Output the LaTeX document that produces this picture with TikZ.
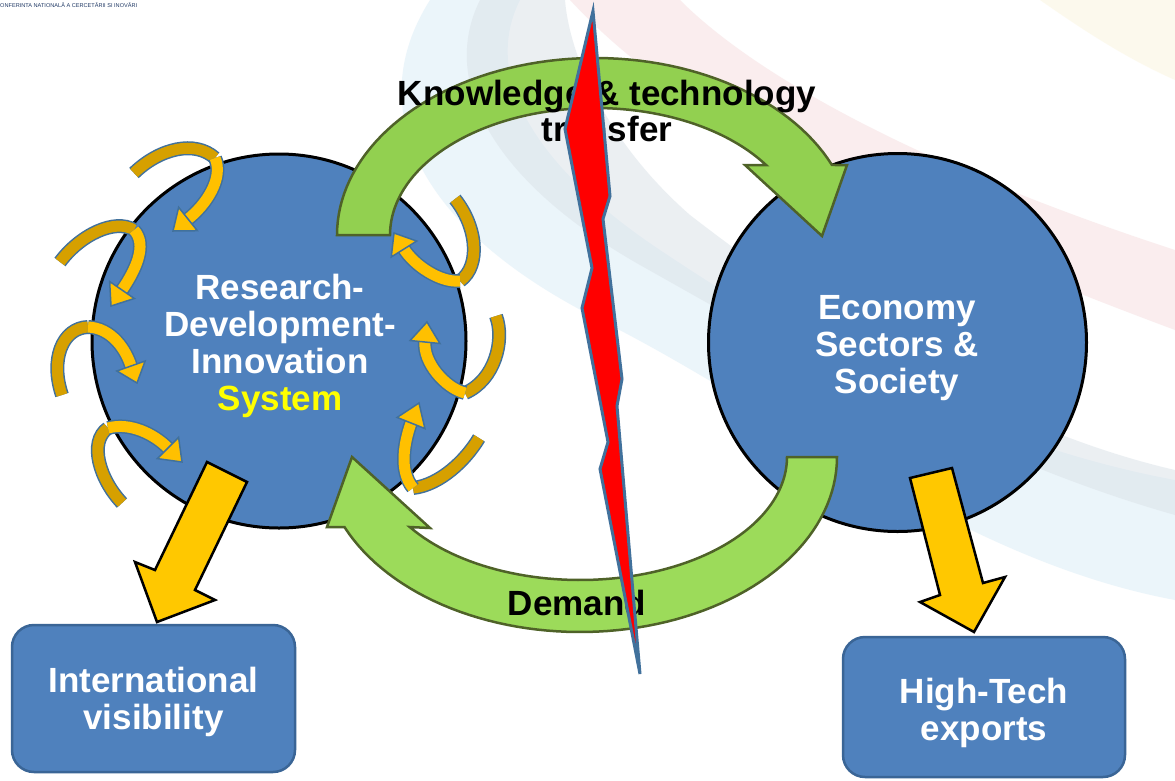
\documentclass[tikz,border=0pt]{standalone}
\usepackage{fontspec}
\setmainfont{Liberation Sans}
\usetikzlibrary{calc}
\definecolor{cblue}{HTML}{4F81BD}
\definecolor{boxedge}{HTML}{3A6596}
\definecolor{gfill}{HTML}{92D050}
\definecolor{gfillb}{HTML}{9CDB5A}
\definecolor{gedge}{HTML}{4F6228}
\definecolor{yfill}{HTML}{FFC800}
\definecolor{sbright}{HTML}{FFC000}
\definecolor{sdark}{HTML}{D6A000}
\definecolor{sedge}{HTML}{41719C}
\definecolor{navy}{HTML}{1F3864}
\definecolor{bgblue}{HTML}{DCEDF7}
\definecolor{bggrey}{HTML}{DCE3E9}
\definecolor{bgpink}{HTML}{F6E0E1}
\definecolor{bgyel}{HTML}{FBF5DF}
\definecolor{systemyellow}{HTML}{FFFF00}
\newcommand\curlyarrow[8]{%
  \draw[ribdark] #1 .. controls #2 and #3 .. #4;
  \draw[ribbright] #4 .. controls #5 and #6 .. #7;
  \filldraw[ribhead] ($#7!15pt!90:#8$) -- #8 -- ($#7!15pt!-90:#8$) -- cycle;
}
\begin{document}
\begin{tikzpicture}[x=1pt,y=-1pt,
  txt/.style={font=\fontsize{35}{36}\selectfont\bfseries, align=center, inner sep=0pt},
  bigcirc/.style={circle, draw=black, line width=3pt, fill=cblue, inner sep=0pt},
  circtxt/.style={text=white, font=\fontsize{35}{37}\selectfont\bfseries, align=center, inner sep=0pt},
  bluebox/.style={draw=boxedge, line width=2.5pt, fill=cblue, rounded corners=22pt, text=white, font=\fontsize{35}{36}\selectfont\bfseries, align=center},
  greenarc/.style={draw=gedge, line width=2.5pt, line join=miter},
  yarrow/.style={fill=yfill, draw=black, line width=2.5pt, line join=miter},
  boltstyle/.style={fill=red, draw=sedge, line width=3pt, line join=miter},
  ribdark/.style={draw=sedge, line width=1.5pt, double=sdark, double distance=11pt},
  ribbright/.style={draw=sedge, line width=1.5pt, double=sbright, double distance=11pt},
  ribhead/.style={fill=sbright, draw=sedge, line width=1.5pt, line join=miter},
  swoosh/.style={opacity=0.55},
]
\useasboundingbox (0,0) rectangle (1175,780);
\fill[white] (0,0) rectangle (1175,780);
% background swooshes
\fill[bgyel, swoosh] (1040,0) .. controls (1090,35) and (1130,60) .. (1175,80) -- (1175,0) -- cycle;
\fill[bgpink, swoosh] (570,0) .. controls (680,120) and (880,220) .. (1175,330) -- (1175,250) .. controls (930,170) and (760,80) .. (680,0) -- cycle;
\fill[bgblue, swoosh] (430,0) .. controls (360,110) and (420,230) .. (600,320) .. controls (780,410) and (960,560) .. (1175,600) -- (1175,480) .. controls (960,440) and (780,330) .. (660,250) .. controls (540,170) and (480,80) .. (520,0) -- cycle;
\fill[bggrey, swoosh] (480,0) .. controls (440,80) and (490,180) .. (640,265) .. controls (800,355) and (980,460) .. (1175,515) -- (1175,470) .. controls (980,425) and (800,300) .. (690,215) .. controls (610,145) and (570,60) .. (565,0) -- cycle;

\node[anchor=west, inner sep=0pt, text=navy, font=\fontsize{5.6}{6}\selectfont] (conf) at (0,5) {ONFERINTA NATIONALĂ A CERCETĂRII SI INOVĂRI};

% circles
\node[bigcirc, minimum size=374pt] (rdi) at (279,341) {};
\node[circtxt] (rditxt) at (280,346) {Research-\\Development-\\Innovation\\\textcolor{systemyellow}{System}};
\node[bigcirc, minimum size=378pt] (eco) at (897.5,342.5) {};
\node[circtxt] (ecotxt) at (897,348) {Economy\\Sectors \&\\Society};

% green arcs
\filldraw[greenarc, fill=gfill] plot[domain=180:23.3, samples=70] ({595+258*cos(\x)},{235-177*sin(\x)})
  -- (847,165) -- (822,236) -- (745,165)
  -- plot[domain=33.45:180, samples=70] ({595+205*cos(\x)},{235-127*sin(\x)}) -- cycle;
\filldraw[greenarc, fill=gfillb] plot[domain=0:156.4, samples=70] ({580+257*cos(\x)},{457+175*sin(\x)})
  -- (327,527) -- (352,457) -- (430,528)
  -- plot[domain=145.3:0, samples=70] ({580+207*cos(\x)},{457+123*sin(\x)}) -- cycle;

% small curled arrows
\curlyarrow{(134,173)}{(160,148)}{(195,140)}{(215,158)}{(224,178)}{(206,205)}{(188,219)}{(173,231)}
\curlyarrow{(60,262)}{(80,235)}{(115,218)}{(134,230)}{(148,245)}{(135,271)}{(122,290)}{(111,306)}
\curlyarrow{(62,395)}{(50,360)}{(62,328)}{(88,327)}{(112,328)}{(126,350)}{(131,366)}{(137,383)}
\curlyarrow{(122,503)}{(100,480)}{(88,442)}{(108,428)}{(130,422)}{(154,434)}{(168,448)}{(182,462)}
\curlyarrow{(455,199)}{(476,225)}{(482,265)}{(460,281)}{(440,283)}{(414,265)}{(404,249)}{(394,233)}
\curlyarrow{(496,316)}{(505,340)}{(495,380)}{(465,393)}{(445,388)}{(423,362)}{(425,342)}{(427,322)}
\curlyarrow{(479,438)}{(466,460)}{(440,485)}{(413,488)}{(398,470)}{(405,440)}{(411,423)}{(419,403)}

% texts on arcs
\node[txt] (ktt) at (607,111) {Knowledge \& technology\\transfer};
\node[txt] (dem) at (577,603) {Demand};

% lightning bolt
\filldraw[boltstyle] (593,11) -- (610,196) -- (603,219) -- (622,379) -- (617,406) -- (640,674)
  -- (600,469) -- (608,442) -- (582,308) -- (592,268) -- (565,129) -- cycle;

% boxes
\node[bluebox, minimum width=283pt, minimum height=147pt] (intl) at (153.5,698.5) {};
\node[circtxt] (intltxt) at (153.5,702) {International\\visibility};
\node[bluebox, minimum width=282pt, minimum height=140pt] (hte) at (984,707) {};
\node[circtxt] (htetxt) at (984,713) {High-Tech\\exports};

% big yellow arrows
\filldraw[yarrow] (207,462) -- (247,482) -- (195,590) -- (215,600) -- (157,622) -- (135,562) -- (155,570) -- cycle;
\filldraw[yarrow] (910,478) -- (952,468) -- (983,583) -- (1005,577) -- (974,632) -- (920,602) -- (940,595) -- cycle;
\end{tikzpicture}
\end{document}
